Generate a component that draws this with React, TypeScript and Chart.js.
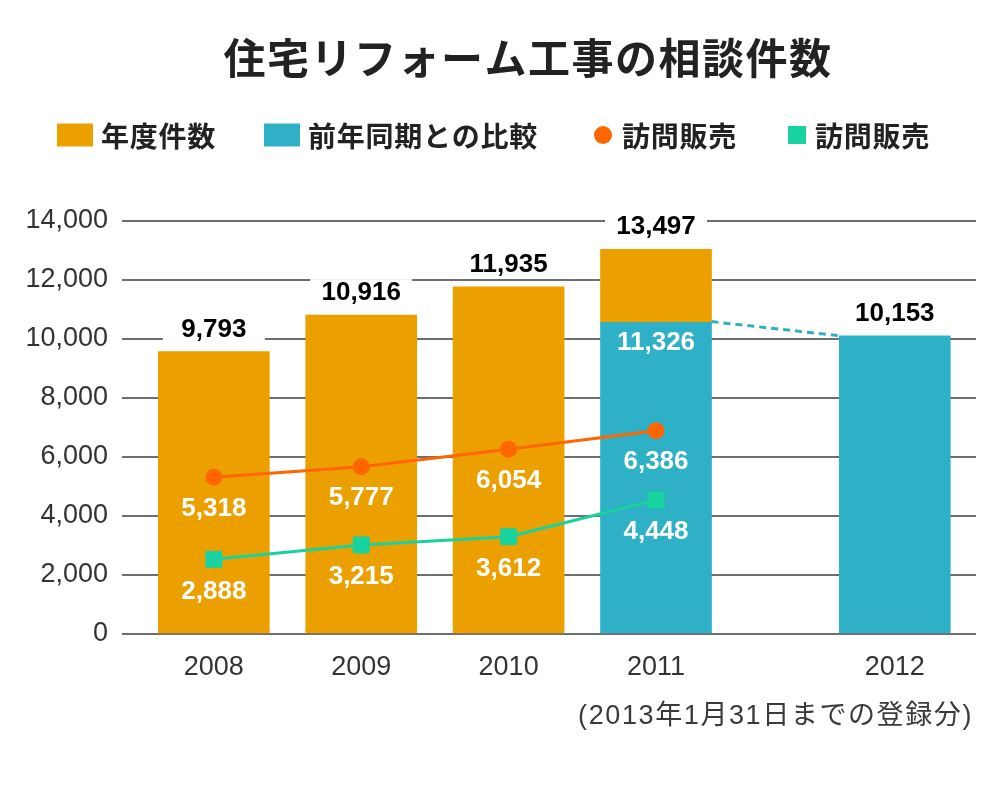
import React, { useEffect, useRef } from 'react';
import { Chart, registerables } from 'chart.js';

Chart.register(...registerables);

// ---- data ----
const years = ['2008', '2009', '2010', '2011', '2012'];
// bar heights as drawn in the picture
const annualCounts: (number | null)[] = [9570, 10810, 11770, 13040, null];
const comparisonCounts: (number | null)[] = [null, null, null, 10590, 10110];
// line series (訪問販売)
const visitOrange = [5310, 5670, 6260, 6890];
const visitGreen = [2530, 3020, 3300, 4540];
// printed value labels
const topLabels = ['9,793', '10,916', '11,935', '13,497', '10,153'];
const comparisonInnerLabels: (string | null)[] = [null, null, null, '11,326', null];
const orangeLabels = ['5,318', '5,777', '6,054', '6,386'];
const greenLabels = ['2,888', '3,215', '3,612', '4,448'];
const seriesNames = ['年度件数', '前年同期との比較', '訪問販売', '訪問販売'];
const titleText = '住宅リフォーム工事の相談件数';
const noteText = '(2013年1月31日までの登録分)';

// ---- layout / style ----
const X_SLOTS = [0, 1, 2, 3, 4.62];
const ORANGE = '#eca000';
const TEAL = '#2eb0c6';
const LINE_ORANGE = '#ff6600';
const LINE_GREEN = '#18d39f';
const NUM_FONT = '"Liberation Sans", Arial, sans-serif';
const JP_FONT = '"Noto Sans CJK JP", sans-serif';
const LEGEND_X = [57, 264, 594, 788];

const TOP_OFFSET = 22;

function topOf(chart: any, i: number): { x: number; y: number } | null {
  const a = chart.getDatasetMeta(0).data[i];
  const c = chart.getDatasetMeta(1).data[i];
  let y = Infinity;
  let x = 0;
  if (annualCounts[i] != null && a) { y = Math.min(y, a.y); x = a.x; }
  if (comparisonCounts[i] != null && c) { y = Math.min(y, c.y); x = c.x; }
  if (!isFinite(y)) return null;
  return { x, y };
}

const decorPlugin = {
  id: 'decor',
  beforeDatasetsDraw(chart: any) {
    const ctx = chart.ctx;
    ctx.save();
    ctx.fillStyle = '#ffffff';
    years.forEach((_, i) => {
      const t = topOf(chart, i);
      if (!t) return;
      ctx.fillRect(t.x - 51, t.y - TOP_OFFSET - 14, 102, 28);
    });
    ctx.restore();
  },
  afterDatasetsDraw(chart: any) {
    const ctx = chart.ctx;
    ctx.save();
    // dashed connector between comparison bars
    const comp = chart.getDatasetMeta(1).data;
    const idx = comparisonCounts.map((v, i) => (v != null ? i : -1)).filter((i) => i >= 0);
    for (let k = 0; k < idx.length - 1; k++) {
      const e1 = comp[idx[k]];
      const e2 = comp[idx[k + 1]];
      ctx.strokeStyle = TEAL;
      ctx.lineWidth = 3;
      ctx.setLineDash([7, 5]);
      ctx.beginPath();
      ctx.moveTo(e1.x + e1.width / 2, e1.y);
      ctx.lineTo(e2.x - e2.width / 2, e2.y);
      ctx.stroke();
      ctx.setLineDash([]);
    }
    ctx.textAlign = 'center';
    ctx.textBaseline = 'middle';
    ctx.font = `bold 26px ${NUM_FONT}`;
    // top labels
    ctx.fillStyle = '#000000';
    years.forEach((_, i) => {
      const t = topOf(chart, i);
      if (!t) return;
      ctx.fillText(topLabels[i], t.x, t.y - TOP_OFFSET);
    });
    // inner comparison labels
    ctx.fillStyle = '#ffffff';
    comparisonInnerLabels.forEach((lab, i) => {
      if (!lab) return;
      const e = comp[i];
      ctx.fillText(lab, e.x, e.y + 21);
    });
    // line labels
    const om = chart.getDatasetMeta(2).data;
    orangeLabels.forEach((lab, i) => {
      const p = om[i];
      ctx.fillText(lab, p.x, p.y + 31);
    });
    const gm = chart.getDatasetMeta(3).data;
    greenLabels.forEach((lab, i) => {
      const p = gm[i];
      ctx.fillText(lab, p.x, p.y + 32);
    });
    ctx.restore();
  },
  afterDraw(chart: any) {
    const ctx = chart.ctx;
    ctx.save();
    // title
    ctx.fillStyle = '#222222';
    ctx.textAlign = 'center';
    ctx.textBaseline = 'middle';
    ctx.font = `bold 42px ${JP_FONT}`;
    (ctx as any).letterSpacing = '1.5px';
    ctx.fillText(titleText, 528, 58);
    // legend
    (ctx as any).letterSpacing = '0.75px';
    ctx.font = `bold 28px ${JP_FONT}`;
    ctx.textAlign = 'left';
    const ds = chart.data.datasets;
    ds.forEach((d: any, i: number) => {
      const x0 = LEGEND_X[i];
      const cy = 135;
      let textX = x0;
      if (d.type === 'bar' || !d.type) {
        ctx.fillStyle = d.backgroundColor;
        ctx.fillRect(x0, cy - 11.5, 36, 23);
        textX = x0 + 44;
      } else if (d.pointStyle === 'circle') {
        ctx.fillStyle = d.borderColor;
        ctx.beginPath();
        ctx.arc(x0 + 9, cy, 9, 0, Math.PI * 2);
        ctx.fill();
        textX = x0 + 28;
      } else {
        ctx.fillStyle = d.borderColor;
        ctx.fillRect(x0, cy - 9, 18, 18);
        textX = x0 + 27;
      }
      ctx.fillStyle = '#222222';
      ctx.fillText(d.label, textX, cy + 1);
    });
    // note
    (ctx as any).letterSpacing = '1.6px';
    ctx.font = `27px "Liberation Sans", ${JP_FONT}`;
    ctx.fillStyle = '#3a3a3a';
    ctx.textAlign = 'right';
    ctx.fillText(noteText, 973, 717);
    ctx.restore();
  },
};

export default function App() {
  const canvasRef = useRef<HTMLCanvasElement | null>(null);

  useEffect(() => {
    if (!canvasRef.current) return;
    const annualData = years.map((_, i) => ({
      x: X_SLOTS[i],
      y: annualCounts[i] == null ? null : [comparisonCounts[i] ?? 0, annualCounts[i] as number],
    }));
    const compData = years.map((_, i) => ({
      x: X_SLOTS[i],
      y: comparisonCounts[i] == null ? null : [0, comparisonCounts[i] as number],
    }));
    const orangeData = visitOrange.map((v, i) => ({ x: X_SLOTS[i], y: v }));
    const greenData = visitGreen.map((v, i) => ({ x: X_SLOTS[i], y: v }));

    const chart = new Chart(canvasRef.current, {
      data: {
        datasets: [
          {
            type: 'bar',
            label: seriesNames[0],
            data: annualData as any,
            backgroundColor: ORANGE,
            barThickness: 111,
            grouped: false,
            order: 2,
          } as any,
          {
            type: 'bar',
            label: seriesNames[1],
            data: compData as any,
            backgroundColor: TEAL,
            barThickness: 111,
            grouped: false,
            order: 2,
          } as any,
          {
            type: 'line',
            label: seriesNames[2],
            data: orangeData,
            borderColor: LINE_ORANGE,
            backgroundColor: LINE_ORANGE,
            borderWidth: 3,
            pointStyle: 'circle',
            pointRadius: 8.5,
            pointBackgroundColor: LINE_ORANGE,
            pointBorderWidth: 0,
            tension: 0,
            order: 0,
          } as any,
          {
            type: 'line',
            label: seriesNames[3],
            data: greenData,
            borderColor: LINE_GREEN,
            backgroundColor: LINE_GREEN,
            borderWidth: 3,
            pointStyle: 'rect',
            pointRadius: 12,
            pointBackgroundColor: LINE_GREEN,
            pointBorderWidth: 0,
            tension: 0,
            order: 0,
          } as any,
        ],
      },
      options: {
        animation: false,
        responsive: false,
        layout: { padding: { left: 0, right: 24, top: 221, bottom: 94 } },
        plugins: {
          legend: { display: false },
          title: { display: false },
          tooltip: { enabled: false },
        },
        scales: {
          x: {
            type: 'linear',
            offset: false,
            min: -0.623,
            max: 5.171,
            grid: { display: false, offset: false },
            border: { display: false },
            afterBuildTicks: (s: any) => {
              s.ticks = X_SLOTS.map((v) => ({ value: v }));
            },
            afterFit: (s: any) => {
              s.height = 60;
            },
            ticks: {
              autoSkip: false,
              maxRotation: 0,
              padding: 9,
              color: '#333333',
              font: { size: 27, family: NUM_FONT },
              callback: (_v: any, i: number) => years[i],
            },
          },
          y: {
            min: 0,
            max: 14000,
            grid: { color: '#6e6e6e', lineWidth: 2, drawTicks: false },
            border: { display: false },
            afterFit: (s: any) => {
              s.width = 122;
            },
            ticks: {
              stepSize: 2000,
              padding: 14,
              color: '#333333',
              font: { size: 27, family: NUM_FONT },
              callback: (v: any) => Number(v).toLocaleString('en-US'),
            },
          },
        },
      } as any,
      plugins: [decorPlugin],
    });
    return () => chart.destroy();
  }, []);

  return (
    <div style={{ position: 'absolute', left: 0, top: 0, width: 1000, height: 788, background: '#fff' }}>
      <canvas ref={canvasRef} width={1000} height={788} style={{ width: 1000, height: 788, display: 'block' }} />
    </div>
  );
}
